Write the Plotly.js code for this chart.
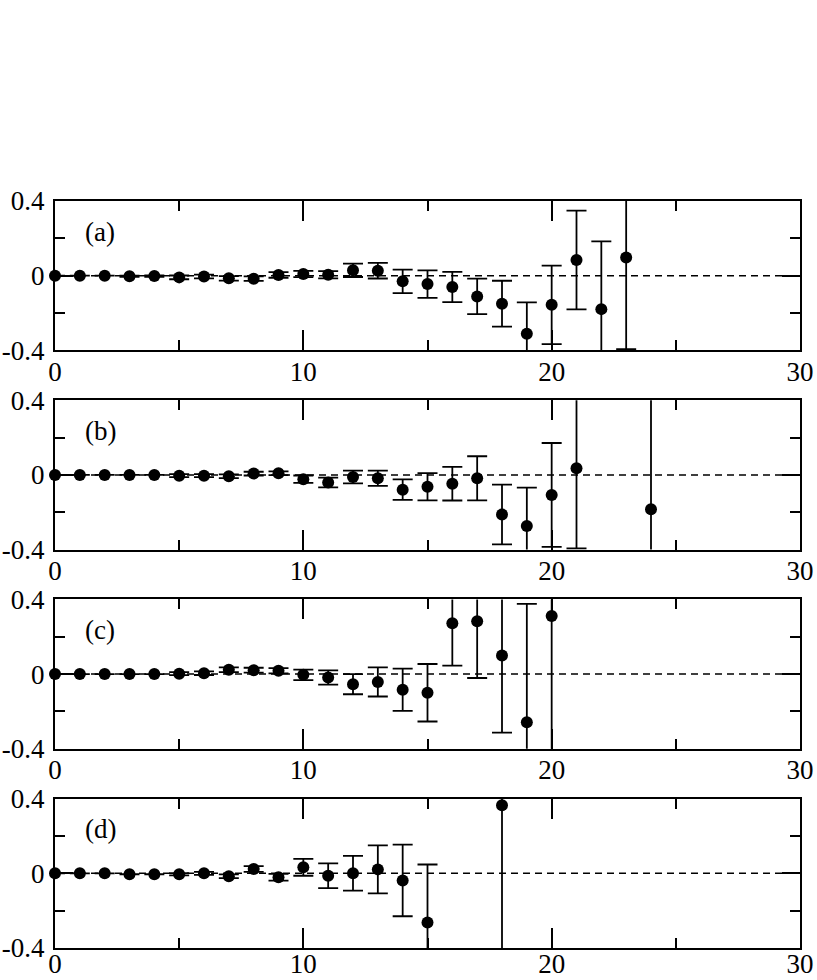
<!DOCTYPE html>
<html>
<head>
<meta charset="utf-8">
<script src="https://cdn.plot.ly/plotly-3.0.1.min.js"></script>
<style>html,body{margin:0;padding:0;background:#fff;}</style>
</head>
<body>
<div id="chart" style="width:817px;height:980px;"></div>
<script>
// ---- data ----
const xA = [0,1,2,3,4,5,6,7,8,9,10,11,12,13,14,15,16,17,18,19,20,21,22,23];
const yA = [0,0,0,-0.003,-0.002,-0.009,-0.004,-0.014,-0.016,0.004,0.009,0.005,0.029,0.027,-0.030,-0.045,-0.061,-0.111,-0.150,-0.311,-0.156,0.084,-0.179,0.097];
const eA = [0,0,0,0.003,0.004,0.010,0.010,0.012,0.012,0.015,0.017,0.019,0.036,0.042,0.063,0.074,0.081,0.095,0.123,0.168,0.210,0.264,0.363,0.490];

const xB = [0,1,2,3,4,5,6,7,8,9,10,11,12,13,14,15,16,17,18,19,20,21,24];
const yB = [0,0,0,0,0,-0.004,-0.004,-0.007,0.007,0.009,-0.023,-0.041,-0.011,-0.018,-0.079,-0.063,-0.047,-0.018,-0.212,-0.274,-0.107,0.036,-0.184];
const eB = [0,0,0,0,0,0.008,0.008,0.010,0.010,0.010,0.020,0.026,0.034,0.041,0.055,0.073,0.090,0.118,0.160,0.206,0.278,0.430,0.650];

const xC = [0,1,2,3,4,5,6,7,8,9,10,11,12,13,14,15,16,17,18,19,20];
const yC = [0,0,0,0,0,0.002,0.005,0.023,0.021,0.018,-0.004,-0.018,-0.054,-0.042,-0.084,-0.100,0.272,0.283,0.100,-0.258,0.311];
const eC = [0,0,0,0,0,0.008,0.010,0.013,0.013,0.014,0.028,0.038,0.054,0.078,0.113,0.154,0.227,0.304,0.413,0.634,0.750];

const xD = [0,1,2,3,4,5,6,7,8,9,10,11,12,13,14,15,18];
const yD = [0,0,0,-0.005,-0.005,-0.005,0,-0.016,0.023,-0.021,0.032,-0.013,0,0.021,-0.038,-0.263,0.365];
const eD = [0,0,0,0,0,0.006,0.008,0.010,0.015,0.018,0.045,0.066,0.093,0.128,0.192,0.310,0.850];

const panelLabels = ['(a)','(b)','(c)','(d)'];
const xTickVals = [0,10,20,30];
const xTickText = ['0','10','20','30'];
const yTickVals = [-0.4,0,0.4];
const yTickText = ['-0.4','0','0.4'];

// ---- build ----
const series = [[xA,yA,eA],[xB,yB,eB],[xC,yC,eC],[xD,yD,eD]];
const domains = [[0.8,1],[0.5333,0.7333],[0.2667,0.4667],[0,0.2]];
const FONT = {family:'Liberation Serif, serif', size:27, color:'#000'};

const traces = [];
const layout = {
  width:817, height:980,
  margin:{l:54.5, r:17, t:201, b:32},
  paper_bgcolor:'#fff', plot_bgcolor:'#fff',
  showlegend:false,
  font: FONT,
  shapes:[], annotations:[]
};

series.forEach((s,i)=>{
  const n = i===0 ? '' : String(i+1);
  // error bars (clipped to the frame)
  traces.push({
    type:'scatter', mode:'markers',
    x:s[0], y:s[1],
    xaxis:'x'+n, yaxis:'y'+n,
    marker:{symbol:'circle', size:2, color:'#000', opacity:0},
    error_y:{type:'data', array:s[2], visible:true, color:'#000', thickness:1.8, width:10},
    cliponaxis:true, hoverinfo:'skip'
  });
  // markers (not clipped, like the reference's full dot at x = 0)
  traces.push({
    type:'scatter', mode:'markers',
    x:s[0], y:s[1],
    xaxis:'x'+n, yaxis:'y'+n,
    marker:{symbol:'circle', size:12, color:'#000'},
    cliponaxis:false, hoverinfo:'skip'
  });
  layout['xaxis'+n] = {
    anchor:'y'+n, domain:[0,1], range:[0,30],
    tickmode:'array', tickvals:xTickVals, ticktext:xTickText,
    ticks:'inside', ticklen:20, tickwidth:2, tickcolor:'#000',
    minor:{tickmode:'linear', tick0:0, dtick:5, ticks:'inside', ticklen:10, tickwidth:2, tickcolor:'#000', showgrid:false},
    showline:true, linewidth:2, linecolor:'#000', mirror:'ticks',
    showgrid:false, zeroline:false, tickfont:FONT, fixedrange:true,
    ticklabelstandoff: i===3 ? -9 : -4
  };
  layout['yaxis'+n] = {
    anchor:'x'+n, domain:domains[i], range:[-0.4,0.4],
    tickmode:'array', tickvals:yTickVals, ticktext:yTickText,
    ticks:'inside', ticklen:18, tickwidth:2, tickcolor:'#000',
    minor:{tickmode:'linear', tick0:-0.4, dtick:0.2, ticks:'inside', ticklen:10, tickwidth:2, tickcolor:'#000', showgrid:false},
    showline:true, linewidth:2, linecolor:'#000', mirror:'ticks',
    showgrid:false, zeroline:false, tickfont:FONT, fixedrange:true,
    ticklabelstandoff:3
  };
  layout.shapes.push({
    type:'line', xref:'x'+n+' domain', yref:'y'+n,
    x0:0, x1:1, y0:0, y1:0, layer:'below',
    line:{color:'#000', width:1.5, dash:'7px,5px'}
  });
  layout.annotations.push({
    text:panelLabels[i], xref:'x'+n+' domain', yref:'y'+n+' domain',
    x:0.061, y:0.795, xanchor:'center', yanchor:'middle',
    showarrow:false, font:FONT
  });
});

Plotly.newPlot('chart', traces, layout, {displayModeBar:false, staticPlot:true});
</script>
</body>
</html>
